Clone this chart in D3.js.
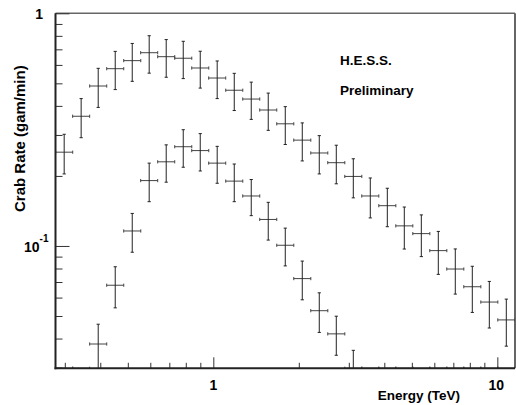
<!DOCTYPE html>
<html>
<head>
<meta charset="utf-8">
<script src="https://cdn.jsdelivr.net/npm/d3@7"></script>
<style>
  html, body { margin: 0; padding: 0; background: #fff; }
  svg { display: block; }
  text { font-family: "Liberation Sans", Arial, Helvetica, sans-serif; font-weight: bold; fill: #000; }
</style>
</head>
<body>
<svg id="chart" width="516" height="405"></svg>
<script>
// ---- data ----
const energies = [0.2985, 0.3425, 0.3933, 0.4515, 0.5183, 0.5946, 0.6826, 0.7837, 0.8995,
  1.032, 1.185, 1.360, 1.561, 1.792, 2.057, 2.361, 2.710, 3.111, 3.570, 4.099, 4.704,
  5.400, 6.197, 7.112, 8.164, 9.371, 10.755];
const upperRate = [0.253, 0.361, 0.487, 0.578, 0.626, 0.677, 0.651, 0.641, 0.582, 0.527,
  0.467, 0.428, 0.384, 0.335, 0.285, 0.251, 0.228, 0.199, 0.164, 0.149, 0.122, 0.113,
  0.0955, 0.0796, 0.0668, 0.0574, 0.0481];
const upperErr = [0.049, 0.069, 0.093, 0.108, 0.116, 0.124, 0.120, 0.117, 0.105, 0.097,
  0.085, 0.078, 0.070, 0.062, 0.053, 0.047, 0.043, 0.038, 0.032, 0.028, 0.025, 0.023,
  0.020, 0.0175, 0.015, 0.013, 0.011];
const lowerRate = [0.010, 0.020, 0.0379, 0.0678, 0.116, 0.191, 0.230, 0.267, 0.257, 0.227,
  0.190, 0.164, 0.130, 0.1007, 0.0724, 0.0527, 0.0419, 0.029, 0.022, 0.018, 0.015, 0.012,
  0.010, 0.008, 0.006, 0.005, 0.004];
const lowerErr = [0.004, 0.006, 0.0082, 0.0136, 0.022, 0.036, 0.042, 0.049, 0.047, 0.041,
  0.035, 0.029, 0.024, 0.0186, 0.0137, 0.0102, 0.008, 0.0066, 0.005, 0.0045, 0.004, 0.0035,
  0.003, 0.0028, 0.0025, 0.002, 0.002];
const binHalfDecades = 0.03;

const xDomain = [0.2782, 11.54];
const yDomain = [0.0298, 1];
const xMajorTicks = [1, 10];
const xMajorLabels = ["1", "10"];
const xMinorTicks = [0.3, 0.4, 0.5, 0.6, 0.7, 0.8, 0.9, 2, 3, 4, 5, 6, 7, 8, 9];
const yMinorTicks = [0.03, 0.04, 0.05, 0.06, 0.07, 0.08, 0.09, 0.2, 0.3, 0.4, 0.5, 0.6, 0.7, 0.8, 0.9];
const xTitle = "Energy (TeV)";
const yTitle = "Crab Rate (gam/min)";
const notes = ["H.E.S.S.", "Preliminary"];

// ---- layout ----
const L = 55.5, R = 515, T = 13.3, B = 368.3;
const svg = d3.select("#chart");
const x = d3.scaleLog().domain(xDomain).range([L, R]);
const y = d3.scaleLog().domain(yDomain).range([B, T]);

svg.append("defs").append("clipPath").attr("id", "plotclip")
  .append("rect").attr("x", L).attr("y", T - 1).attr("width", R - L).attr("height", B - T + 1);

// frame top/right
svg.append("line").attr("x1", L).attr("x2", R).attr("y1", T).attr("y2", T)
  .attr("stroke", "#666").attr("stroke-width", 1.5);
svg.append("line").attr("x1", R).attr("x2", R).attr("y1", T).attr("y2", B)
  .attr("stroke", "#666").attr("stroke-width", 2);

// data
function drawSeries(rates, errs) {
  const g = svg.append("g").attr("clip-path", "url(#plotclip)")
    .attr("stroke", "#222").attr("stroke-width", 1).attr("fill", "none");
  const ymin = yDomain[0];
  const cap = 1.6;
  energies.forEach((e, i) => {
    const v = rates[i], er = errs[i];
    const xc = x(e);
    const xl = x(e / Math.pow(10, binHalfDecades));
    const xr = x(e * Math.pow(10, binHalfDecades));
    const yc = y(Math.max(v, ymin));
    // horizontal bar + caps
    g.append("line").attr("x1", xl).attr("x2", xr).attr("y1", yc).attr("y2", yc).attr("stroke", "#444");
    g.append("line").attr("x1", xl).attr("x2", xl).attr("y1", yc - cap).attr("y2", yc + cap).attr("stroke", "#444");
    g.append("line").attr("x1", xr).attr("x2", xr).attr("y1", yc - cap).attr("y2", yc + cap).attr("stroke", "#444");
    // vertical bar
    const hi = v + er, lo = v - er;
    if (hi > ymin) {
      const yt = y(hi), yb = y(Math.max(lo, ymin));
      g.append("line").attr("x1", xc).attr("x2", xc).attr("y1", yt).attr("y2", yb);
      g.append("line").attr("x1", xc - cap).attr("x2", xc + cap).attr("y1", yt).attr("y2", yt);
      if (lo > ymin) g.append("line").attr("x1", xc - cap).attr("x2", xc + cap).attr("y1", yb).attr("y2", yb);
    }
  });
}
drawSeries(upperRate, upperErr);
drawSeries(lowerRate, lowerErr);

// axes ticks (inward) via d3 axes
const yMinorAxis = d3.axisLeft(y).tickValues(yMinorTicks).tickSizeInner(-7).tickSizeOuter(0).tickFormat("");
const yMajorAxis = d3.axisLeft(y).tickValues([0.1, 1]).tickSizeInner(-14).tickSizeOuter(0).tickFormat("");
const xMinorAxis = d3.axisBottom(x).tickValues(xMinorTicks).tickSizeInner(-5.5).tickSizeOuter(0).tickFormat("");
const xMajorAxis = d3.axisBottom(x).tickValues(xMajorTicks).tickSizeInner(-11).tickSizeOuter(0).tickFormat("");

function styleAxis(g) {
  g.select(".domain").remove();
  g.selectAll(".tick line").attr("stroke", "#333").attr("stroke-width", 1);
}
svg.append("g").attr("transform", `translate(${L},0)`).call(yMinorAxis).call(styleAxis);
svg.append("g").attr("transform", `translate(${L},0)`).call(yMajorAxis).call(styleAxis);
svg.append("g").attr("transform", `translate(0,${B})`).call(xMinorAxis).call(styleAxis);
svg.append("g").attr("transform", `translate(0,${B})`).call(xMajorAxis).call(styleAxis);

// left & bottom axis lines
svg.append("line").attr("x1", L).attr("x2", L).attr("y1", T).attr("y2", B + 1)
  .attr("stroke", "#222").attr("stroke-width", 2);
svg.append("line").attr("x1", L - 1).attr("x2", R).attr("y1", B).attr("y2", B)
  .attr("stroke", "#222").attr("stroke-width", 2);

// y tick labels
svg.append("text").attr("x", 43).attr("y", y(1) + 6).attr("text-anchor", "end")
  .attr("font-size", 14).text("1");
const t01 = svg.append("text").attr("x", 48.5).attr("y", y(0.1) + 6).attr("text-anchor", "end")
  .attr("font-size", 14);
t01.append("tspan").text("10");
t01.append("tspan").attr("font-size", 10).attr("dy", -10).text("-1");

// x tick labels
xMajorTicks.forEach((v, i) => {
  svg.append("text").attr("x", x(v) + (i === 1 ? -1 : 0)).attr("y", 390).attr("text-anchor", "middle")
    .attr("font-size", 14).text(xMajorLabels[i]);
});

// titles
svg.append("text").attr("x", 460).attr("y", 400).attr("text-anchor", "end")
  .attr("font-size", 13.5).text(xTitle);
svg.append("text").attr("transform", "translate(25,212) rotate(-90)").attr("text-anchor", "start")
  .attr("font-size", 15).text(yTitle);

// annotations
svg.append("text").attr("x", 340).attr("y", 65).attr("font-size", 13.5).text(notes[0]);
svg.append("text").attr("x", 340).attr("y", 95).attr("font-size", 13.5).text(notes[1]);
</script>
</body>
</html>
